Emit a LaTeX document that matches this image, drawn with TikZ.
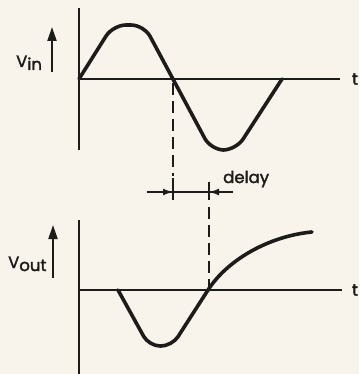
\documentclass[tikz,border=0pt]{standalone}
\usepackage{fontspec}
\setmainfont{Poppins}[FakeBold=2]
\usetikzlibrary{arrows.meta}
\definecolor{paper}{RGB}{248,244,236}
\definecolor{ink}{RGB}{30,27,27}
\begin{document}
\begin{tikzpicture}[x=1pt,y=-1pt,
  axis/.style={ink,line width=2pt},
  wave/.style={ink,line width=3.6pt,line cap=round,line join=round},
  dashln/.style={ink,line width=1.8pt,dash pattern=on 12pt off 6pt},
  tick/.style={ink,line width=1.8pt},
  lbl/.style={ink,font=\fontsize{16.5}{16.5}\selectfont,inner sep=0pt},
  varrow/.style={ink,line width=2.2pt,-{Triangle[length=14pt,width=9pt]}},
  darrow/.style={ink,line width=1.8pt,-{Latex[length=10pt,width=7pt]}},
]
\fill[paper] (0,0) rectangle (359,374);
\useasboundingbox (0,0) rectangle (359,374);
% ---------- top plot ----------
\coordinate (o1) at (79,79);
\coordinate (y1top) at (79,8);
\coordinate (y1bot) at (79,150);
\coordinate (x1end) at (340,79);
\draw[axis] (y1top) -- (y1bot);
\draw[axis] (o1) -- (x1end);
\node[lbl] (t1) at (355,79) {t};
\draw[wave,rounded corners=13pt] (o1) -- (113,25) -- (144,25) -- (211,150) -- (236,150) -- (282,79);
\node[lbl,anchor=base west] (vin) at (16,67) {V\raisebox{-3pt}{in}};
\coordinate (a1s) at (52,72);
\coordinate (a1e) at (52,27);
\draw[varrow] (a1s) -- (a1e);
% ---------- bottom plot ----------
\coordinate (o2) at (79,290);
\coordinate (y2top) at (79,220);
\coordinate (y2bot) at (79,374);
\coordinate (x2end) at (342,290);
\draw[axis] (y2top) -- (y2bot);
\draw[axis] (o2) -- (x2end);
\node[lbl] (t2) at (355,290) {t};
\coordinate (c2) at (208,290);
\draw[wave,rounded corners=11pt] (118,290) -- (149,346) -- (172,346) -- (c2);
\draw[wave] (c2) .. controls (228,259) and (270,236) .. (312,232);
\node[lbl,anchor=base west] (vout) at (8,268) {V\raisebox{-3pt}{out}};
\coordinate (a2s) at (53,278);
\coordinate (a2e) at (53,225);
\draw[varrow] (a2s) -- (a2e);
% ---------- delay ----------
\coordinate (d1a) at (173,83);
\coordinate (d1b) at (173,176);
\coordinate (k1a) at (173,178);
\coordinate (k1b) at (173,200);
\coordinate (k2a) at (209,182);
\coordinate (k2b) at (209,200);
\coordinate (d2a) at (209,207);
\coordinate (d2b) at (209,290);
\draw[dashln] (d1a) -- (d1b);
\draw[tick] (k1a) -- (k1b);
\draw[tick] (k2a) -- (k2b);
\draw[dashln] (d2a) -- (d2b);
\coordinate (la) at (147,192);
\coordinate (ra) at (233,192);
\coordinate (lt) at (173,192);
\coordinate (rt) at (209,192);
\draw[tick] (la) -- (ra);
\draw[darrow] (la) -- (lt);
\draw[darrow] (ra) -- (rt);
\node[lbl,anchor=base west] (delay) at (223,183) {delay};
\end{tikzpicture}
\end{document}
